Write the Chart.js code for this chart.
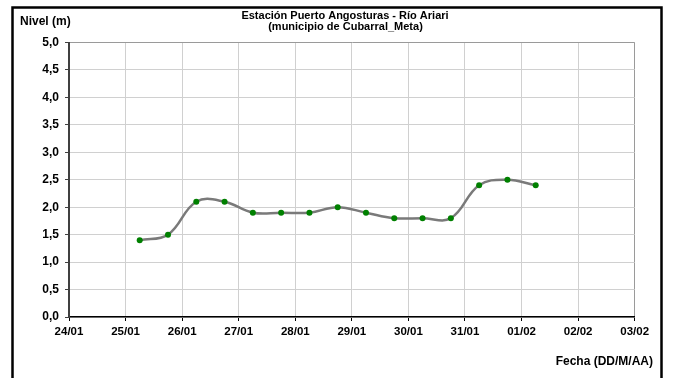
<!DOCTYPE html>
<html>
<head>
<meta charset="utf-8">
<script src="https://cdn.jsdelivr.net/npm/chart.js@4/dist/chart.umd.min.js"></script>
<style>
  html, body { margin: 0; padding: 0; background: #fff; }
  #wrap { width: 674px; height: 378px; }
</style>
</head>
<body>
<div id="wrap"><canvas id="grafico"></canvas></div>
<script>
// datos (x = días desde el 24/01)
const titulo = ["Estación Puerto Angosturas - Río Ariari", "(municipio de Cubarral_Meta)"];
const tituloY = "Nivel (m)";
const tituloX = "Fecha (DD/M/AA)";
const etiquetasX = ["24/01", "25/01", "26/01", "27/01", "28/01", "29/01", "30/01", "31/01", "01/02", "02/02", "03/02"];
const dias = [1.25, 1.75, 2.25, 2.75, 3.25, 3.75, 4.25, 4.75, 5.25, 5.75, 6.25, 6.75, 7.25, 7.75, 8.25];
const niveles = [1.4, 1.5, 2.1, 2.1, 1.9, 1.9, 1.9, 2.0, 1.9, 1.8, 1.8, 1.8, 2.4, 2.5, 2.4];

const FONT = "'Liberation Sans', Arial, sans-serif";

// marco, títulos y rótulos de ejes
const textos = {
  id: "textos",
  afterDraw(chart) {
    const c = chart.ctx;
    c.save();
    c.strokeStyle = "#000";
    c.lineWidth = 2.5;
    c.strokeRect(12.5, 7.5, 649, 400);
    c.fillStyle = "#000";
    c.textBaseline = "middle";
    c.font = `bold 11px ${FONT}`;
    c.textAlign = "center";
    c.fillText(titulo[0], 345, 15.5);
    c.fillText(titulo[1], 345.5, 27);
    c.textAlign = "left";
    c.font = `bold 12px ${FONT}`;
    c.fillText(tituloY, 20, 22);
    c.textAlign = "right";
    c.fillText(tituloX, 653, 362);
    c.restore();
  }
};

new Chart(document.getElementById("grafico"), {
  type: "line",
  data: {
    datasets: [{
      data: dias.map((d, i) => ({ x: d, y: niveles[i] })),
      borderColor: "#7a7a7a",
      borderWidth: 2.5,
      tension: 0.4,
      pointRadius: 3,
      pointBorderWidth: 0,
      pointBackgroundColor: "#008000",
      clip: false
    }]
  },
  options: {
    responsive: true,
    maintainAspectRatio: false,
    animation: false,
    layout: { padding: { left: 0, right: 39.3, top: 42.5, bottom: 0 } },
    plugins: { legend: { display: false }, tooltip: { enabled: false } },
    scales: {
      x: {
        type: "linear",
        min: 0,
        max: 10,
        afterFit: (s) => { s.height = 61; },
        grid: {
          color: (ctx) => ctx.tick && ctx.tick.value === 10 ? "#9a9a9a" : "#d0d0d0",
          tickColor: "#000",
          tickLength: 4
        },
        border: { color: "#000", width: 1.5 },
        ticks: {
          stepSize: 1,
          padding: 4,
          maxRotation: 0,
          color: "#000",
          font: { family: FONT, size: 11.5, weight: "bold" },
          callback: (v) => etiquetasX[v] ?? ""
        }
      },
      y: {
        min: 0,
        max: 5,
        afterFit: (s) => { s.width = 69; },
        grid: {
          color: (ctx) => ctx.tick && ctx.tick.value === 5 ? "#9a9a9a" : "#d0d0d0",
          tickColor: "#404040",
          tickLength: 4
        },
        border: { color: "#404040", width: 2 },
        ticks: {
          stepSize: 0.5,
          padding: 6,
          color: "#000",
          font: { family: FONT, size: 12, weight: "bold" },
          callback: (v) => v.toFixed(1).replace(".", ",")
        }
      }
    }
  },
  plugins: [textos]
});
</script>
</body>
</html>
